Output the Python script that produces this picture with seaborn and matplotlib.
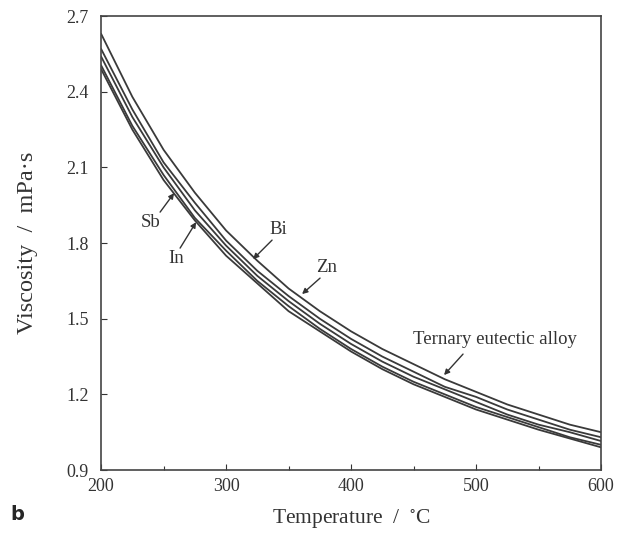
import numpy as np
import pandas as pd
import matplotlib
matplotlib.use("Agg")
import matplotlib.pyplot as plt
import seaborn as sns
from matplotlib.ticker import MultipleLocator

# values (every 25 degC)
temperature = [200, 225, 250, 275, 300, 325, 350, 375, 400,
               425, 450, 475, 500, 525, 550, 575, 600]
ternary = [2.63, 2.38, 2.17, 2.00, 1.85, 1.73, 1.62, 1.53, 1.45,
           1.38, 1.32, 1.26, 1.21, 1.16, 1.12, 1.08, 1.05]
zn = [2.57, 2.33, 2.12, 1.96, 1.81, 1.69, 1.59, 1.50, 1.42,
      1.35, 1.29, 1.23, 1.19, 1.14, 1.10, 1.06, 1.03]
bi = [2.54, 2.30, 2.10, 1.93, 1.79, 1.67, 1.57, 1.48, 1.40,
      1.33, 1.27, 1.22, 1.17, 1.12, 1.08, 1.05, 1.015]
sb = [2.505, 2.265, 2.07, 1.90, 1.77, 1.65, 1.55, 1.46, 1.38,
      1.31, 1.25, 1.20, 1.15, 1.11, 1.07, 1.03, 1.00]
indium = [2.49, 2.25, 2.05, 1.89, 1.75, 1.64, 1.53, 1.45, 1.37,
          1.30, 1.24, 1.19, 1.14, 1.10, 1.06, 1.025, 0.99]

series = {"Ternary eutectic alloy": ternary, "Zn": zn, "Bi": bi, "Sb": sb, "In": indium}
df = pd.concat([pd.DataFrame({"T": temperature, "eta": v, "alloy": k}) for k, v in series.items()])

sns.set_style("ticks")
plt.rcParams["font.family"] = ["Liberation Serif", "DejaVu Serif"]
plt.rcParams["mathtext.fontset"] = "stix"

fig = plt.figure(figsize=(6.28, 5.39), dpi=100)
ax = fig.add_axes([0.161, 0.128, 0.796, 0.842])

sns.lineplot(data=df, x="T", y="eta", units="alloy", estimator=None,
             color="#3a3a3a", lw=1.3, ax=ax, legend=False)

ax.set_xlim(200, 600)
ax.set_ylim(0.9, 2.7)
ax.xaxis.set_major_locator(MultipleLocator(100))
ax.xaxis.set_minor_locator(MultipleLocator(50))
ax.yaxis.set_major_locator(MultipleLocator(0.3))
ax.tick_params(direction="in", which="both", length=4, width=0.8, labelsize=13,
               colors="#333333")
ax.tick_params(axis="y", pad=9)
ax.tick_params(axis="x", pad=6)
ax.tick_params(which="minor", length=3)
for s in ax.spines.values():
    s.set_linewidth(1.2)
    s.set_color("#444444")

ax.set_xlabel("Temperature  /  $^{\\circ}$C", fontsize=15.5, color="#333333", labelpad=9)
ax.set_ylabel("Viscosity  /  mPa·s", fontsize=17.5, color="#333333", labelpad=20)

def px(x, y):
    return (x - 101) / 1.25 + 200, 2.7 - (y - 16) / 252.2

arrow = dict(arrowstyle="-|>", color="#333333", lw=1.0, mutation_scale=8,
             shrinkA=0, shrinkB=0)
labels = [
    ("Sb", (151, 222), (160, 212), (174, 193)),
    ("In", (176, 258), (180, 248), (196, 222)),
    ("Bi", (278, 229), (272, 240), (253, 259)),
    ("Zn", (327, 267), (320, 278), (302, 294)),
    ("Ternary eutectic alloy", (495, 339), (463, 354), (444, 375)),
]
for txt, tpos, start, tip in labels:
    ax.text(*px(*tpos), txt, fontsize=13.5, color="#333333", ha="center", va="center")
    ax.annotate("", xy=px(*tip), xytext=px(*start), arrowprops=arrow)

fig.text(0.016, 0.028, "b", fontsize=14, fontweight="bold",
         family=["DejaVu Sans"], ha="left", va="bottom")

fig.savefig("out.png", dpi=100)
